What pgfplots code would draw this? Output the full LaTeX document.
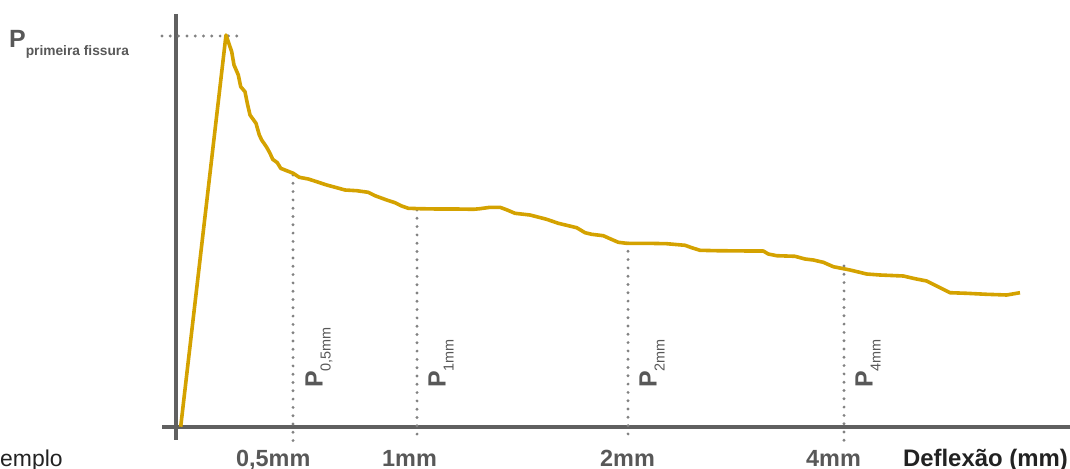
\documentclass[border=0pt]{standalone}
\usepackage{pgfplots}
\pgfplotsset{compat=1.18}
\usepackage{fontspec}
\setmainfont{Liberation Sans}
\definecolor{gold}{RGB}{212,162,0}
\definecolor{axgray}{RGB}{96,96,96}
\definecolor{txtgray}{RGB}{88,88,88}
\definecolor{dotgray}{RGB}{130,130,130}
\definecolor{dark}{RGB}{34,34,34}
\newcommand{\rotP}[1]{\fontsize{25}{25}\selectfont\bfseries P\fontsize{14.5}{14}\selectfont\mdseries\raisebox{-8bp}{#1}}
\newcommand{\tickl}[1]{\fontsize{23.5}{23}\selectfont\bfseries #1}
\begin{document}
\begin{tikzpicture}
\begin{axis}[
  name=ax,
  scale only axis, width=1070bp, height=469bp,
  xmin=0, xmax=1070, ymin=0, ymax=469, y dir=reverse,
  axis lines=none, clip=false,
]
% axes
\draw[axgray, line width=3.3bp] (axis cs:176,14) -- (axis cs:176,440);
\draw[axgray, line width=3.3bp] (axis cs:162,427) -- (axis cs:1070,427);
% dotted guides
\tikzset{dots/.style={dotgray, line width=3.2bp, line cap=round, dash pattern=on 0bp off 8.3bp}}
\draw[dots] (axis cs:162,36) -- (axis cs:238,36);
\draw[dots] (axis cs:293,175) -- (axis cs:293,441);
\draw[dots] (axis cs:417,210) -- (axis cs:417,441);
\draw[dots] (axis cs:628,243) -- (axis cs:628,441);
\draw[dots] (axis cs:844,266) -- (axis cs:844,441);
% curve
\addplot[gold, line width=3.6bp, line join=round] coordinates {
(180.7,426.7) (226,35) (231.7,51.7) (234,65) (238.3,75) (240.7,86.7) (245,91.7)
(247.3,103.3) (250,115) (256,123.3) (259.3,135) (261.7,140) (266.7,147.3)
(270,153.3) (272.7,159.3) (277.3,162.7) (280.7,168.3) (286.7,170.7) (293.3,173.3)
(299.3,177.3) (308.3,179) (316.7,181.7) (326.7,185) (336.7,187.7) (345,190)
(356.7,190.7) (368.3,192.3) (375,195.7) (386.7,200) (395,202.7) (401.7,206)
(408.3,208.3) (420,208.7) (436.7,209) (456.7,209) (473.3,209.3) (480,208.7)
(490,207.3) (500,207.3) (506.7,209.8) (515,213.3) (530,215) (546.7,219.3)
(558.3,223.3) (576.7,227.7) (585,232.7) (591.7,234.3) (603.3,235.7) (610,238.7)
(618.3,242.3) (626.7,243.3) (646.7,243.3) (666.7,243.7) (685,245.3) (691.7,247.7)
(700,250.3) (716.7,250.7) (750,251) (763.3,251) (768.3,254) (776.7,255.7)
(795,256.3) (805,259) (813.3,260) (823.3,262.3) (833.3,266.7) (850,270)
(866.7,274) (880,275) (903.3,276) (915,278.7) (926.7,281) (936.7,286)
(950,292.7) (966.7,293.3) (986.7,294.3) (1006.7,295) (1020,292.7)
};
% labels
\node[anchor=base west, inner sep=0pt, txtgray] at (axis cs:9,47.7)
  {\fontsize{25}{25}\selectfont\bfseries P\fontsize{13.8}{14}\selectfont\raisebox{-7.5bp}{primeira fissura}};
\node[anchor=base west, inner sep=0pt, rotate=90, txtgray] at (axis cs:322.5,388) {\rotP{0,5mm}};
\node[anchor=base west, inner sep=0pt, rotate=90, txtgray] at (axis cs:445.5,388) {\rotP{1mm}};
\node[anchor=base west, inner sep=0pt, rotate=90, txtgray] at (axis cs:656.5,388) {\rotP{2mm}};
\node[anchor=base west, inner sep=0pt, rotate=90, txtgray] at (axis cs:872.5,388) {\rotP{4mm}};
\node[anchor=base west, inner sep=0pt, txtgray] at (axis cs:236,466) {\tickl{0,5mm}};
\node[anchor=base west, inner sep=0pt, txtgray] at (axis cs:382,466) {\tickl{1mm}};
\node[anchor=base west, inner sep=0pt, txtgray] at (axis cs:600,466) {\tickl{2mm}};
\node[anchor=base west, inner sep=0pt, txtgray] at (axis cs:806,466) {\tickl{4mm}};
\node[anchor=base east, inner sep=0pt, dark] at (axis cs:1068,466)
  {\fontsize{24}{24}\selectfont\bfseries Deflexão (mm)};
\node[anchor=base west, inner sep=0pt, dark] at (axis cs:0,466)
  {\fontsize{23}{23}\selectfont emplo};
\end{axis}
\pgfresetboundingbox
\path[use as bounding box] (ax.south west) rectangle (ax.north east);
\end{tikzpicture}
\end{document}
